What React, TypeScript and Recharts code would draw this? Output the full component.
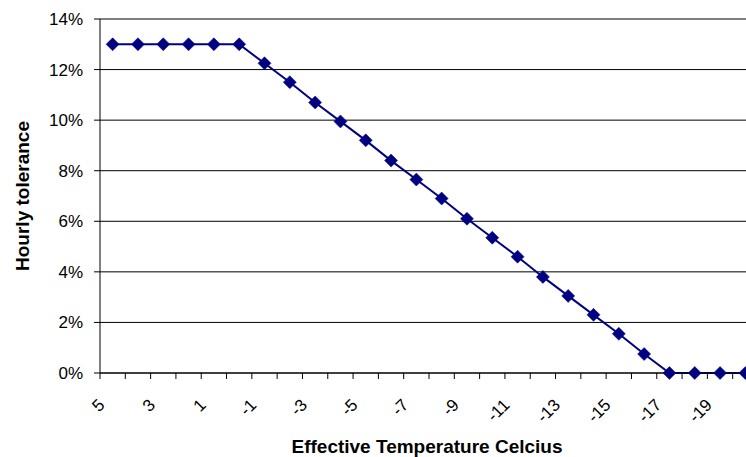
import React from 'react';
import { LineChart, Line, XAxis, YAxis, CartesianGrid } from 'recharts';

const categories: string[] = [
  '5', '4', '3', '2', '1', '0', '-1', '-2', '-3', '-4', '-5', '-6', '-7',
  '-8', '-9', '-10', '-11', '-12', '-13', '-14', '-15', '-16', '-17', '-18', '-19', '-20',
];
const tolerance: number[] = [
  13, 13, 13, 13, 13, 13, 12.25, 11.5, 10.7, 9.95, 9.2, 8.4, 7.65,
  6.9, 6.1, 5.35, 4.6, 3.8, 3.05, 2.3, 1.55, 0.75, 0, 0, 0, 0,
];
const yTicks: number[] = [0, 2, 4, 6, 8, 10, 12, 14];

const data = categories.map((c, i) => ({ t: c, v: tolerance[i] }));

const FONT = '"Liberation Sans", Arial, sans-serif';
const CHART_W = 770;
const CHART_H = 457;
const Y_AXIS_W = 100;
const MARGIN = { top: 19, right: 12, bottom: 0, left: 0 };
const PLOT_W = CHART_W - Y_AXIS_W - MARGIN.left - MARGIN.right;
const HALF_BAND = PLOT_W / categories.length / 2;

const Diamond = (props: any) => {
  const { cx, cy } = props;
  if (cx == null || cy == null) return null;
  const r = 6.5;
  return (
    <polygon
      points={`${cx},${cy - r} ${cx + r},${cy} ${cx},${cy + r} ${cx - r},${cy}`}
      fill="#000080"
      stroke="#000080"
      strokeWidth={0.5}
    />
  );
};

const XTick = (props: any) => {
  const { x, y, payload, index } = props;
  const tx = x - HALF_BAND;
  const showLabel = index % 2 === 0;
  const lx = x - 7;
  const ly = y + 33;
  return (
    <g>
      <line x1={tx} y1={y} x2={tx} y2={y + 6} stroke="#000" strokeWidth={1} />
      {showLabel && (
        <text
          x={lx}
          y={ly}
          transform={`rotate(-45, ${lx}, ${ly})`}
          textAnchor="end"
          fontSize={17}
          fontFamily={FONT}
          fill="#000"
        >
          {payload.value}
        </text>
      )}
    </g>
  );
};

const XTitle = (props: any) => {
  const { viewBox } = props;
  const cx = viewBox.x + viewBox.width / 2 - 2;
  return (
    <text x={cx} y={453} textAnchor="middle" fontSize={19} fontWeight="bold" fontFamily={FONT} fill="#000">
      Effective Temperature Celcius
    </text>
  );
};

const YTitle = (props: any) => {
  const { viewBox } = props;
  const cy = viewBox.y + viewBox.height / 2;
  const x = 29;
  return (
    <text
      x={x}
      y={cy}
      transform={`rotate(-90, ${x}, ${cy})`}
      textAnchor="middle"
      fontSize={19}
      fontWeight="bold"
      fontFamily={FONT}
      fill="#000"
    >
      Hourly tolerance
    </text>
  );
};

export default function App() {
  return (
    <div style={{ position: 'absolute', left: 0, top: 0, width: 746, height: 457, overflow: 'hidden', background: '#fff' }}>
      <LineChart width={CHART_W} height={CHART_H} data={data} margin={MARGIN}>
        <CartesianGrid horizontal={true} vertical={false} stroke="#000" strokeWidth={1} strokeOpacity={1} />
        <XAxis
          dataKey="t"
          scale="band"
          interval={0}
          height={84}
          tickSize={0}
          tickMargin={0}
          tickLine={false}
          axisLine={{ stroke: '#000', strokeWidth: 1 }}
          tick={<XTick />}
          label={<XTitle />}
        />
        <YAxis
          width={Y_AXIS_W}
          domain={[0, 14]}
          ticks={yTicks}
          interval={0}
          tickSize={6}
          tickMargin={11}
          tickFormatter={(v: number) => `${v}%`}
          tick={{ fontSize: 17, fontFamily: FONT, fill: '#000' }}
          tickLine={{ stroke: '#000' }}
          axisLine={{ stroke: '#000', strokeWidth: 1 }}
          label={<YTitle />}
        />
        <Line
          type="linear"
          dataKey="v"
          stroke="#000080"
          strokeWidth={2}
          dot={<Diamond />}
          activeDot={false}
          isAnimationActive={false}
        />
      </LineChart>
    </div>
  );
}
